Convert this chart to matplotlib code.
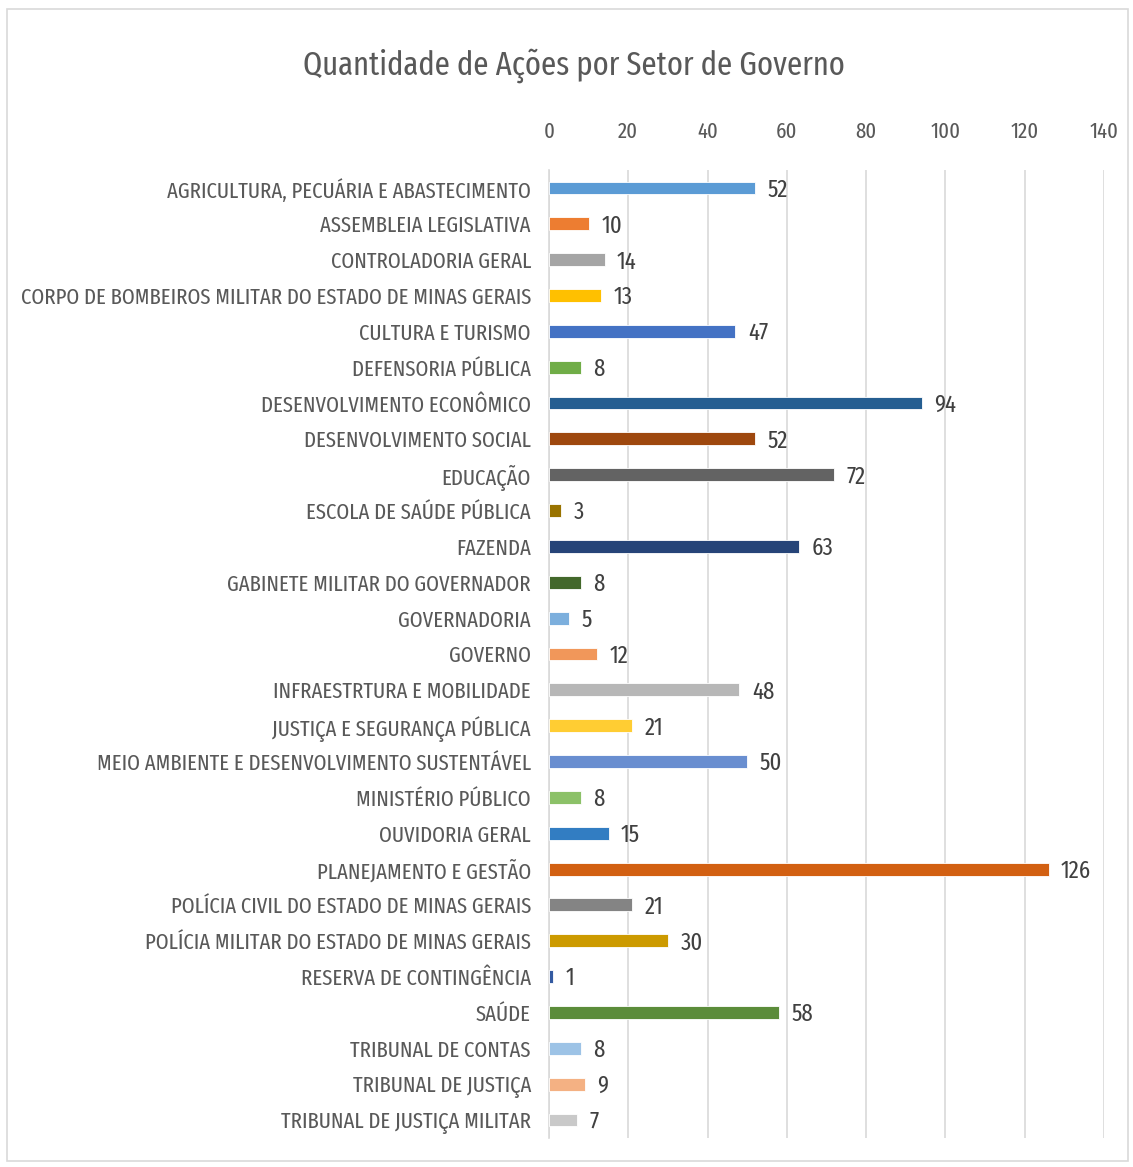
import matplotlib.pyplot as plt

setores = [
    'AGRICULTURA, PECUÁRIA E ABASTECIMENTO', 'ASSEMBLEIA LEGISLATIVA', 'CONTROLADORIA GERAL',
    'CORPO DE BOMBEIROS MILITAR DO ESTADO DE MINAS GERAIS', 'CULTURA E TURISMO',
    'DEFENSORIA PÚBLICA', 'DESENVOLVIMENTO ECONÔMICO', 'DESENVOLVIMENTO SOCIAL', 'EDUCAÇÃO',
    'ESCOLA DE SAÚDE PÚBLICA', 'FAZENDA', 'GABINETE MILITAR DO GOVERNADOR', 'GOVERNADORIA',
    'GOVERNO', 'INFRAESTRTURA E MOBILIDADE', 'JUSTIÇA E SEGURANÇA PÚBLICA',
    'MEIO AMBIENTE E DESENVOLVIMENTO SUSTENTÁVEL', 'MINISTÉRIO PÚBLICO', 'OUVIDORIA GERAL',
    'PLANEJAMENTO E GESTÃO', 'POLÍCIA CIVIL DO ESTADO DE MINAS GERAIS',
    'POLÍCIA MILITAR DO ESTADO DE MINAS GERAIS', 'RESERVA DE CONTINGÊNCIA', 'SAÚDE',
    'TRIBUNAL DE CONTAS', 'TRIBUNAL DE JUSTIÇA', 'TRIBUNAL DE JUSTIÇA MILITAR',
]
acoes = [52, 10, 14, 13, 47, 8, 94, 52, 72, 3, 63, 8, 5, 12, 48, 21, 50, 8, 15, 126,
         21, 30, 1, 58, 8, 9, 7]
cores = ['#5B9BD5', '#ED7D31', '#A5A5A5', '#FFC000', '#4472C4', '#70AD47',
         '#255E91', '#9E480E', '#636363', '#997300', '#264478', '#43682B',
         '#7CAFDD', '#F1975A', '#B7B7B7', '#FFCD33', '#698ED0', '#8CC168',
         '#327DC2', '#D26012', '#848484', '#CC9A00', '#335AA1', '#5B8C3A',
         '#9DC3E6', '#F4B183', '#C9C9C9']
xticks = [0, 20, 40, 60, 80, 100, 120, 140]

plt.rcParams['font.family'] = ['Fira Sans Extra Condensed', 'DejaVu Sans']
plt.rcParams['font.weight'] = 'normal'

txt = '#595959'
fig = plt.figure(figsize=(11.33, 11.67), dpi=100)
ax = fig.add_axes([0.4846, 0.0249, 0.4898, 0.8294])

pos = list(range(len(setores)))
ax.barh(pos, acoes, height=0.36, color=cores, edgecolor='white', linewidth=0.6, zorder=3)
rotulos = []
for p, v in zip(pos, acoes):
    t = ax.annotate(str(v), (v, p), xytext=(9, -1.5), textcoords='offset points',
                    va='center', ha='left', fontsize=17, color='#404040')
    rotulos.append(t)

ax.set_xlim(0, 140)
ax.set_ylim(len(setores) - 0.5, -0.5)
ax.set_xticks(xticks)
ax.set_yticks(pos)
ax.set_yticklabels(setores)
ax.xaxis.tick_top()
ax.tick_params(axis='x', length=0, pad=20, labelsize=17, labelcolor=txt)
ax.tick_params(axis='y', length=0, pad=13, labelsize=17, labelcolor=txt)
ax.grid(axis='x', color='#D9D9D9', linewidth=1.2, zorder=0)
for s in ['top', 'right', 'bottom']:
    ax.spines[s].set_visible(False)
ax.spines['left'].set_color('#D9D9D9')
ax.spines['left'].set_linewidth(1.2)

titulo = fig.text(0.507, 0.9434, 'Quantidade de Ações por Setor de Governo', ha='center',
                  va='center', fontsize=26, color=txt)

# fit font sizes to the widths measured on the reference
fig.canvas.draw()
r = fig.canvas.get_renderer()
longest = ax.get_yticklabels()[3]
k = 509 / longest.get_window_extent(r).width
ysize = 17 * k
ax.tick_params(axis='both', labelsize=ysize)
for t in rotulos:
    t.set_fontsize(ysize * 1.1)
titulo.set_fontsize(26 * 543 / titulo.get_window_extent(r).width)

border = plt.Rectangle((0.006, 0.005), 0.99, 0.987, transform=fig.transFigure,
                       fill=False, edgecolor='#D9D9D9', linewidth=1.2)
fig.patches.append(border)

fig.savefig('out.png', dpi=100)
